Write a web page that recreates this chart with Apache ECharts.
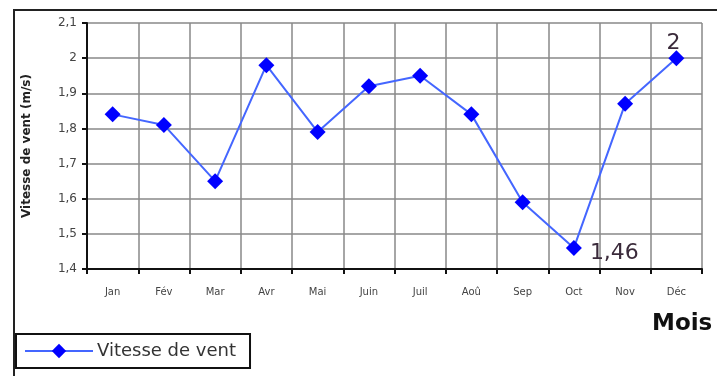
<!DOCTYPE html>
<html>
<head>
<meta charset="utf-8">
<script src="https://cdn.jsdelivr.net/npm/echarts@6/dist/echarts.min.js"></script>
<style>
  html, body { margin: 0; padding: 0; background: #fff; }
  #chart { width: 717px; height: 376px; }
</style>
</head>
<body>
<div id="chart"></div>
<script>
// Monthly mean wind speed (m/s)
const months = ['Jan', 'Fév', 'Mar', 'Avr', 'Mai', 'Juin', 'Juil', 'Aoû', 'Sep', 'Oct', 'Nov', 'Déc'];
const windSpeed = [1.84, 1.81, 1.65, 1.98, 1.79, 1.92, 1.95, 1.84, 1.59, 1.46, 1.87, 2.00];
const labelledMonths = ['Oct', 'Déc'];

const fmt = v => String(+v.toFixed(2)).replace('.', ',');

const chart = echarts.init(document.getElementById('chart'), null, { renderer: 'canvas' });

chart.setOption({
  animation: false,
  backgroundColor: '#fff',
  textStyle: { fontFamily: 'DejaVu Sans' },
  graphic: [
    {
      type: 'rect',
      shape: { x: 14, y: 10, width: 760, height: 420 },
      style: { fill: 'none', stroke: '#222', lineWidth: 2 },
      silent: true
    },
    {
      type: 'text',
      left: 652,
      top: 313,
      style: { text: 'Mois', font: 'bold 23px "DejaVu Sans"', fill: '#111' }
    }
  ],
  legend: {
    left: 16,
    top: 334,
    itemWidth: 68,
    itemHeight: 18,
    itemGap: 5,
    padding: [8, 14, 8, 8],
    borderColor: '#111',
    borderWidth: 2,
    textStyle: { fontSize: 18, color: '#333', fontFamily: 'DejaVu Sans', padding: [0, 0, 0, -1] },
    data: ['Vitesse de vent']
  },
  grid: { left: 87, right: 15, top: 23, bottom: 107, containLabel: false },
  xAxis: {
    type: 'category',
    data: months,
    boundaryGap: true,
    axisLine: { show: true, lineStyle: { color: '#111', width: 2 } },
    axisTick: { show: true, length: 5, alignWithLabel: false, lineStyle: { color: '#111', width: 2 } },
    axisLabel: { fontSize: 10, color: '#444', margin: 18 },
    splitLine: { show: true, interval: 0, lineStyle: { color: '#888', width: 1.5 } }
  },
  yAxis: {
    type: 'value',
    name: 'Vitesse de vent (m/s)',
    nameLocation: 'middle',
    nameGap: 54,
    nameTextStyle: { fontSize: 12, fontWeight: 'bold', color: '#222' },
    min: 1.4,
    max: 2.1,
    interval: 0.1,
    axisLine: { show: true, lineStyle: { color: '#111', width: 2 } },
    axisTick: { show: true, length: 5, lineStyle: { color: '#111', width: 2 } },
    axisLabel: { fontSize: 12, color: '#444', margin: 10, formatter: fmt },
    splitLine: { show: true, lineStyle: { color: '#888', width: 1.5 } }
  },
  series: [
    {
      name: 'Vitesse de vent',
      type: 'line',
      data: windSpeed.map((v, i) => ({
        value: v,
        label: labelledMonths.includes(months[i])
          ? {
              show: true,
              position: months[i] === 'Oct' ? 'right' : 'top',
              distance: months[i] === 'Oct' ? 8 : 0,
              offset: months[i] === 'Oct' ? [0, 5] : [-3, 4],
              fontSize: 22,
              color: '#3a2a3a',
              formatter: p => fmt(p.value)
            }
          : { show: false }
      })),
      symbol: 'diamond',
      symbolSize: 16,
      lineStyle: { color: '#4466ff', width: 2 },
      itemStyle: { color: '#0000ff' }
    }
  ]
});
</script>
</body>
</html>
